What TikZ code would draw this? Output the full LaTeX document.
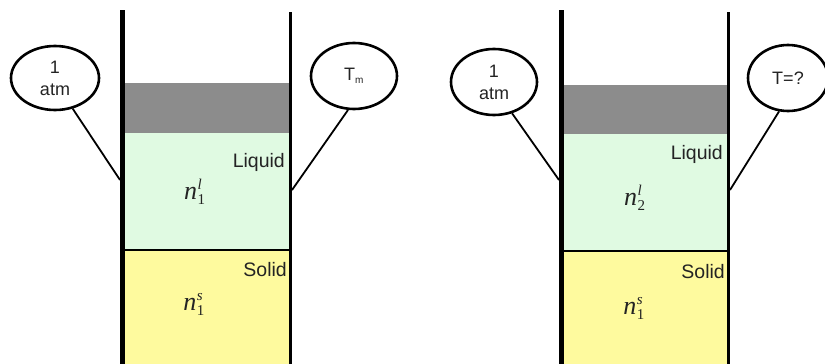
\documentclass[tikz,border=0pt]{standalone}
\usepackage{fontspec}
\setmainfont{Liberation Sans}
\newfontfamily\tnr{Liberation Serif}
\usetikzlibrary{shapes.geometric}
\definecolor{piston}{RGB}{140,140,140}
\definecolor{liq}{RGB}{224,250,226}
\definecolor{sol}{RGB}{254,250,158}
\definecolor{ink}{RGB}{35,35,35}
\newcommand{\amt}[2]{{\tnr\fontsize{26}{26}\selectfont\itshape n}\kern0.5pt\raisebox{-5pt}{\rlap{\tnr\fontsize{15}{15}\selectfont #1}}\raisebox{10pt}{\tnr\fontsize{15}{15}\selectfont\itshape #2}}
\begin{document}
\begin{tikzpicture}[x=1pt,y=-1pt,
  bubble/.style={draw,ellipse,line width=2.6pt,inner sep=0pt,font=\fontsize{18}{22}\selectfont,align=center,text=ink},
  lead/.style={line width=1.8pt},
  phase/.style={font=\fontsize{19.5}{19.5}\selectfont,anchor=east,inner sep=0pt,text=ink},
  amount/.style={inner sep=0pt,text=ink}]
\useasboundingbox (0,0) rectangle (825,364);
% ---------- left container ----------
\fill[piston] (125,83) rectangle (289,133);
\fill[liq] (125,133) rectangle (289,250);
\fill[sol] (125,250) rectangle (289,364);
\draw[line width=1.3pt] (125,250) -- (289,250);
\draw[line width=5pt] (122,10) -- (122,364);
\draw[line width=3pt] (290,12) -- (290,364);
\node[phase] (liqA) at (285,162) {Liquid};
\node[phase] (solA) at (287,270) {Solid};
\node[amount] (nlA) at (193,192) {\amt{1}{l}};
\node[amount] (nsA) at (193,304) {\amt{1}{s}};
\node[bubble,minimum width=88pt,minimum height=64pt] (pA) at (55,78) {1\\atm};
\node[bubble,minimum width=86pt,minimum height=66pt] (tA) at (354,76) {T\textsubscript{\fontsize{10}{10}\selectfont m}};
\coordinate (wA1) at (120,180);
\coordinate (wA2) at (292,190);
\draw[lead] (pA.-60) -- (wA1);
\draw[lead] (tA.-100) -- (wA2);
% ---------- right container ----------
\fill[piston] (564,85) rectangle (727,134);
\fill[liq] (564,134) rectangle (727,251);
\fill[sol] (564,251) rectangle (727,364);
\draw[line width=1.3pt] (564,251) -- (727,251);
\draw[line width=5pt] (561,10) -- (561,364);
\draw[line width=3pt] (728,12) -- (728,364);
\node[phase] (liqB) at (723,154) {Liquid};
\node[phase] (solB) at (725,272) {Solid};
\node[amount] (nlB) at (633,198) {\amt{2}{l}};
\node[amount] (nsB) at (633,308) {\amt{1}{s}};
\node[bubble,minimum width=86pt,minimum height=66pt] (pB) at (494,82) {1\\atm};
\node[bubble,minimum width=80pt,minimum height=66pt] (tB) at (788,78) {T=?};
\coordinate (wB1) at (559,180);
\coordinate (wB2) at (730,190);
\draw[lead] (pB.-60) -- (wB1);
\draw[lead] (tB.-105) -- (wB2);
\end{tikzpicture}
\end{document}
